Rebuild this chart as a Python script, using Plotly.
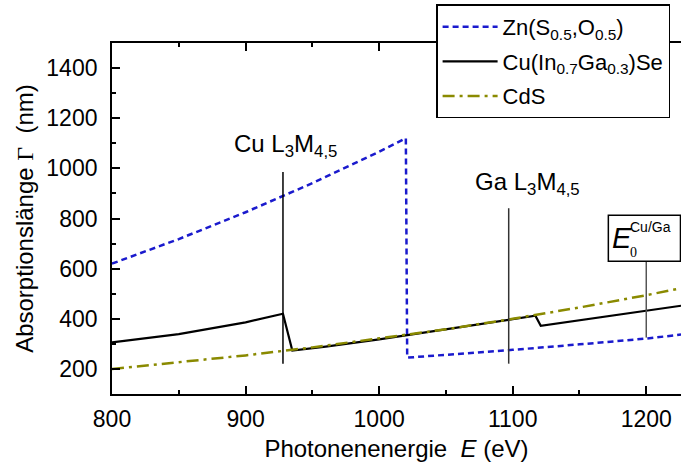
import plotly.graph_objects as go

# ---- data ----
zn_E = [800, 850, 900, 950, 1000, 1020, 1021, 1050, 1100, 1150, 1200, 1226]
zn_L = [620, 718, 825, 941, 1066, 1120, 245, 256, 276, 298, 321, 337]

cig_E = [800, 850, 900, 928, 935, 960, 1000, 1050, 1100, 1117, 1121, 1150, 1200, 1226]
cig_L = [306, 339, 386, 420, 273, 289, 318, 357, 397, 412, 372, 394, 433, 452]

cds_E = [800, 850, 900, 950, 1000, 1050, 1100, 1150, 1200, 1226]
cds_L = [200, 226, 254, 286, 321, 358, 400, 445, 494, 522]

series_names = ["Zn(S<sub>0.5</sub>,O<sub>0.5</sub>)",
                "Cu(In<sub>0.7</sub>Ga<sub>0.3</sub>)Se",
                "CdS"]

x_ticks = [800, 900, 1000, 1100, 1200]
y_ticks = [200, 400, 600, 800, 1000, 1200, 1400]

# marker lines (energy, bottom, top)
cu_line = (928, 221, 985)
ga_line = (1097, 221, 841)
e0_line = (1200, 325, 629)
e0_box = (1171.6, 629, 1225.6, 813)

FONT = "Liberation Sans, Arial, sans-serif"

fig = go.Figure()
fig.add_trace(go.Scatter(x=zn_E, y=zn_L, mode="lines", name=series_names[0], legendgroup="a",
                         line=dict(color="#1a1acd", width=2.5, dash="6px,4px")))
fig.add_trace(go.Scatter(x=cig_E, y=cig_L, mode="lines", name=series_names[1], legendgroup="b",
                         line=dict(color="black", width=2.2)))
fig.add_trace(go.Scatter(x=cds_E, y=cds_L, mode="lines", name=series_names[2], legendgroup="c",
                         line=dict(color="#8a8a00", width=2.5, dash="12px,5px,3px,5px")))

shapes = []
for (xe, y0, y1), col in [(cu_line, "black"), (ga_line, "#333333"), (e0_line, "#555555")]:
    shapes.append(dict(type="line", xref="x", yref="y", x0=xe, x1=xe, y0=y0, y1=y1,
                       line=dict(color=col, width=1.5), layer="above"))
shapes.append(dict(type="rect", xref="x", yref="y", x0=e0_box[0], y0=e0_box[1],
                   x1=e0_box[2], y1=e0_box[3], line=dict(color="black", width=1.5),
                   fillcolor="white", layer="above"))

annotations = [
    dict(x=930, y=1020, xref="x", yref="y", text="Cu L<sub>3</sub>M<sub>4,5</sub>",
         showarrow=False, xanchor="center", yanchor="bottom", font=dict(size=24)),
    dict(x=1111, y=870, xref="x", yref="y", text="Ga L<sub>3</sub>M<sub>4,5</sub>",
         showarrow=False, xanchor="center", yanchor="bottom", font=dict(size=24)),
    dict(x=1173.0, y=721, xref="x", yref="y", text="<i>E</i>",
         showarrow=False, xanchor="left", yanchor="middle", font=dict(size=29)),
    dict(x=1186.0, y=767, xref="x", yref="y", text="Cu/Ga",
         showarrow=False, xanchor="left", yanchor="middle", font=dict(size=14)),
    dict(x=1186.5, y=663, xref="x", yref="y", text="0",
         showarrow=False, xanchor="left", yanchor="middle",
         font=dict(size=14, family="Liberation Serif, serif")),
]

fig.update_layout(
    width=681, height=472,
    margin=dict(l=112, r=0, t=43, b=78),
    plot_bgcolor="white", paper_bgcolor="white",
    font=dict(family=FONT, size=22, color="black"),
    showlegend=True,
    legend=dict(x=0.5696, y=1.11, xanchor="left", yanchor="top",
                bgcolor="white", bordercolor="black", borderwidth=1.5,
                font=dict(size=22), itemwidth=55, tracegroupgap=3),
    shapes=shapes,
    annotations=annotations,
)

fig.update_xaxes(range=[800, 1226], tickvals=x_ticks, ticks="inside", ticklen=8,
                 tickwidth=1.5, tickcolor="black", showline=True, linecolor="black",
                 linewidth=1.8, mirror="ticks", showgrid=False, zeroline=False,
                 minor=dict(dtick=50, tick0=800, ticks="inside", ticklen=4, tickwidth=1.5,
                            tickcolor="black", showgrid=False),
                 tickfont=dict(size=23), ticklabelstandoff=3,
                 title=dict(text="Photonenenergie&nbsp;&nbsp;<i>E</i> (eV)",
                            font=dict(size=24), standoff=10))
fig.update_yaxes(range=[100, 1500], tickvals=y_ticks, ticks="inside", ticklen=8,
                 tickwidth=1.5, tickcolor="black", showline=True, linecolor="black",
                 linewidth=1.8, mirror=False, showgrid=False, zeroline=False,
                 minor=dict(dtick=100, tick0=100, ticks="inside", ticklen=4, tickwidth=1.5,
                            tickcolor="black", showgrid=False),
                 tickfont=dict(size=23), ticklabelstandoff=8,
                 title=dict(text="Absorptionslänge <span style='font-family:Liberation Serif'>Γ</span>&nbsp;&nbsp;(nm)",
                            font=dict(size=24), standoff=6))

fig.write_html("out.html")
